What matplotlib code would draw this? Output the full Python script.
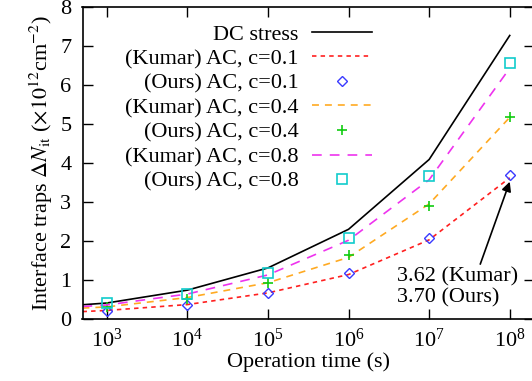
import matplotlib
matplotlib.use("Agg")
import matplotlib.pyplot as plt
import numpy as np

plt.rcParams['font.family'] = ['Liberation Serif', 'DejaVu Serif']
plt.rcParams['mathtext.fontset'] = 'stix'
plt.rcParams['lines.scale_dashes'] = False

# data
t_line = [500, 1e3, 1e4, 1e5, 1e6, 1e7, 1e8]
t_pts = [1e3, 1e4, 1e5, 1e6, 1e7, 1e8]
dc = [0.365, 0.41, 0.74, 1.31, 2.30, 4.09, 7.27]
kumar_01 = [0.19, 0.22, 0.37, 0.67, 1.14, 2.03, 3.62]
ours_01 = [0.20, 0.36, 0.66, 1.17, 2.07, 3.70]
kumar_04 = [0.28, 0.31, 0.55, 0.93, 1.58, 2.95, 5.17]
ours_04 = [0.30, 0.52, 0.93, 1.63, 2.91, 5.19]
kumar_08 = [0.32, 0.36, 0.64, 1.13, 2.02, 3.57, 6.43]
ours_08 = [0.41, 0.65, 1.17, 2.07, 3.67, 6.56]

W, H = 532, 381
fig = plt.figure(figsize=(W/100, H/100), dpi=100)
ax = fig.add_axes([82.5/W, 1 - 319/H, (534 - 82.5)/W, (319 - 7)/H])

ax.plot(t_line, dc, color='black', lw=1.2, label='DC stress')
ax.plot(t_line, kumar_01, color='#ff2020', lw=1.2, dashes=(3.2, 3.0), label='(Kumar) AC, c=0.1')
ax.plot(t_pts, ours_01, ls='none', marker='D', ms=5.5, mfc='none', mec='#3a3aff', mew=1.0, label='(Ours) AC, c=0.1')
ax.plot(t_line, kumar_04, color='#ffaa22', lw=1.2, dashes=(5.0, 4.3), label='(Kumar) AC, c=0.4')
ax.plot(t_pts, ours_04, ls='none', marker='+', ms=7, mec='#11cc11', mew=1.2, label='(Ours) AC, c=0.4')
ax.plot(t_line, kumar_08, color='#ee33ee', lw=1.2, dashes=(7.0, 5.8), label='(Kumar) AC, c=0.8')
ax.plot(t_pts, ours_08, ls='none', marker='s', ms=7, mfc='none', mec='#11cccc', mew=1.2, label='(Ours) AC, c=0.8')

ax.set_xscale('log')
ax.set_xlim(500, 2e8)
ax.set_ylim(0, 8)
ax.set_xticks([1e3, 1e4, 1e5, 1e6, 1e7, 1e8])
ax.xaxis.set_minor_locator(matplotlib.ticker.NullLocator())
ax.set_yticks(range(0, 9))
ax.tick_params(direction='in', length=7, width=1.0, top=True, right=True, labelsize=16)
ax.tick_params(axis='x', pad=7)
ax.tick_params(axis='y', pad=8)
for s in ax.spines.values():
    s.set_linewidth(1.2)

ax.set_xlabel('Operation time (s)', fontsize=16, labelpad=0)
ax.set_ylabel(r'Interface traps $\Delta N_{\rm it}$ ($\times 10^{12}$cm$^{-2}$)', fontsize=16, labelpad=4)

ax.annotate('3.62 (Kumar)\n3.70 (Ours)', xy=(1e8, 3.52), xytext=(10**6.6, 0.82),
            fontsize=16, ha='left', va='center', linespacing=1.12,
            arrowprops=dict(arrowstyle='-|>', color='black', lw=1.2, mutation_scale=14,
                            shrinkA=0, shrinkB=0, relpos=(0.68, 1.0)))

leg = ax.legend(loc='upper right', bbox_to_anchor=(371.5/W, 1 - 24/H), bbox_transform=fig.transFigure,
                frameon=False, markerfirst=False, fontsize=16, handlelength=2.7, handletextpad=0.58,
                labelspacing=0.18, borderpad=0, borderaxespad=0)

fig.savefig('out.png', dpi=100)
